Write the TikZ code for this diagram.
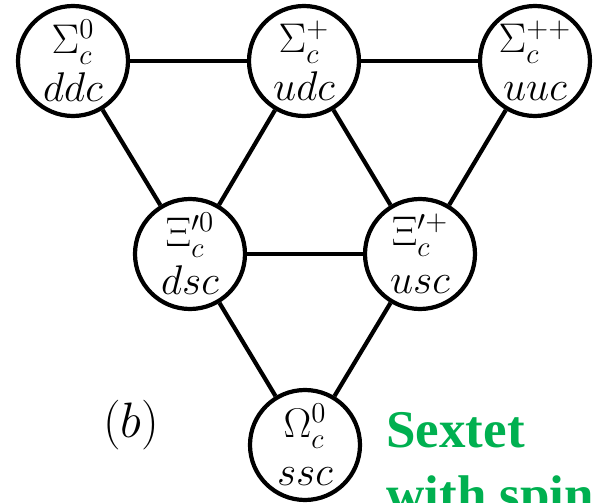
\documentclass[tikz,border=0pt]{standalone}
\usepackage{fontspec}
\usepackage{xcolor}
\newfontfamily\sextetfont{Liberation Serif}
\definecolor{sextetgreen}{RGB}{0,176,80}

\begin{document}
\begin{tikzpicture}[x=0.5pt,y=-0.5pt,
    baryon/.style={draw,circle,line width=2.1pt,minimum size=55pt,inner sep=0pt,
        align=center,font=\fontsize{21}{24}\selectfont},
    link/.style={line width=2.1pt},
    caption/.style={anchor=base west,text=sextetgreen,inner sep=0pt,
        font=\fontsize{26.5}{32.5}\sextetfont\bfseries}]
\useasboundingbox (0,0) rectangle (602,503);
\path
    (73,61) node [baryon] (sig0) {$\Sigma_c^0$\\$ddc$}
    (304,61) node [baryon] (sigp) {$\Sigma_c^+$\\$udc$}
    (535,61) node [baryon] (sigpp) {$\Sigma_c^{++}$\\$uuc$}
    (190,254) node [baryon] (xi0) {$\Xi_c^{\prime 0}$\\$dsc$}
    (420,254) node [baryon] (xip) {$\Xi_c^{\prime +}$\\$usc$}
    (305,445) node [baryon] (omega) {$\Omega_c^0$\\$ssc$};
\draw [link] (sig0) -- (sigp);
\draw [link] (sigp) -- (sigpp);
\draw [link] (sig0) -- (xi0);
\draw [link] (sigp) -- (xi0);
\draw [link] (sigp) -- (xip);
\draw [link] (sigpp) -- (xip);
\draw [link] (xi0) -- (xip);
\draw [link] (xi0) -- (omega);
\draw [link] (xip) -- (omega);
\path
    (131,425) node [font=\fontsize{23}{27}\selectfont] (panel) {$(b)$}
    (386,448) node [caption] (sextet) {Sextet}
    (386,513) node [caption] (spin) {with spin};
\end{tikzpicture}
\end{document}
